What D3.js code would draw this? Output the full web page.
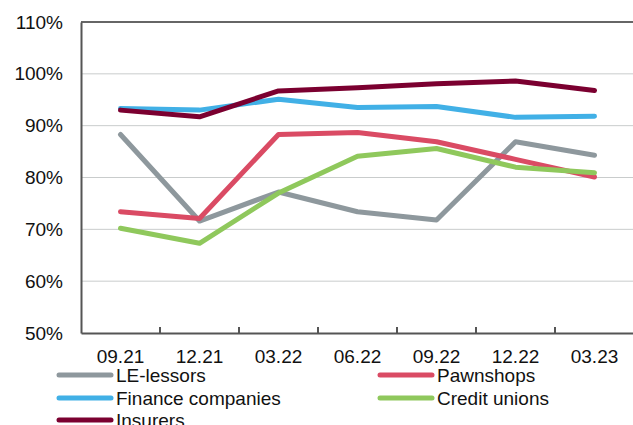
<!DOCTYPE html>
<html><head><meta charset="utf-8">
<script src="https://cdn.jsdelivr.net/npm/d3@7"></script>
<style>body{margin:0;background:#fff}svg{display:block}text{font-family:"Liberation Sans",Arial,sans-serif}</style>
</head><body>
<svg id="c" width="633" height="425"></svg>
<script>
const categories = ["09.21","12.21","03.22","06.22","09.22","12.22","03.23"];
const yTicks = [50,60,70,80,90,100,110];
const seriesNames = ["LE-lessors","Finance companies","Pawnshops","Credit unions","Insurers"];
const leLessors = [88.3,71.6,77.2,73.4,71.8,86.9,84.3];
const financeCompanies = [93.3,93.0,95.1,93.5,93.7,91.6,91.8];
const pawnshops = [73.4,72.1,88.3,88.7,86.9,83.5,80.1];
const creditUnions = [70.2,67.3,77.0,84.1,85.6,82.0,80.9];
const insurers = [93.0,91.7,96.7,97.3,98.1,98.6,96.8];
const colors = ["#8e989d","#41b0e6","#da4b64","#8fc85c","#7b0030"];
const seriesValues = [leLessors,financeCompanies,pawnshops,creditUnions,insurers];

const svg = d3.select("#c");
const L=81, R=634, T=22, B=333;
const FS = 19;
const x = d3.scaleBand().domain(categories).range([L,R]);
const y = d3.scaleLinear().domain([50,110]).range([B,T]);

// gridlines
svg.append("g").selectAll("line").data(yTicks.filter(d=>d>50&&d<110)).join("line")
  .attr("x1",L).attr("x2",R).attr("y1",d=>y(d)).attr("y2",d=>y(d))
  .attr("stroke","#c9cccc").attr("stroke-width",1);

// top border
svg.append("line").attr("x1",L).attr("x2",R).attr("y1",T).attr("y2",T).attr("stroke","#666").attr("stroke-width",2);

// y axis
const ya = svg.append("g").attr("transform",`translate(${L},0)`)
  .call(d3.axisLeft(y).tickValues(yTicks).tickFormat(d=>d+"%").tickSize(0).tickPadding(18));
ya.select(".domain").attr("stroke","#555").attr("stroke-width",2);
ya.selectAll("text").attr("font-size",FS).attr("fill","#111").attr("font-family","Liberation Sans, Arial, sans-serif");

// x axis
const xa = svg.append("g").attr("transform",`translate(0,${B})`)
  .call(d3.axisBottom(x).tickSize(0).tickPadding(17));
xa.select(".domain").attr("stroke","#555").attr("stroke-width",2);
xa.selectAll("text").attr("font-size",FS).attr("fill","#111").attr("font-family","Liberation Sans, Arial, sans-serif");
// inward tick marks at band boundaries
svg.append("g").selectAll("line").data(categories.slice(1)).join("line")
  .attr("x1",d=>x(d)).attr("x2",d=>x(d)).attr("y1",B).attr("y2",B-6)
  .attr("stroke","#555").attr("stroke-width",2);

// lines
const line = d3.line().x((d,i)=>x(categories[i])+x.bandwidth()/2).y(d=>y(d));
seriesValues.forEach((vals,i)=>{
  svg.append("path").datum(vals).attr("d",line)
    .attr("fill","none").attr("stroke",colors[i]).attr("stroke-width",5)
    .attr("stroke-linejoin","round").attr("stroke-linecap","round");
});

// legend (column-major: left column LE-lessors, Finance companies, Insurers)
const legPos = [[57,375],[57,398],[378,375],[378,398],[57,420]];
const lg = svg.append("g");
seriesNames.forEach((n,i)=>{
  const [lx,ly]=legPos[i];
  lg.append("line").attr("x1",lx+2).attr("x2",lx+54).attr("y1",ly).attr("y2",ly)
    .attr("stroke",colors[i]).attr("stroke-width",5).attr("stroke-linecap","round");
  lg.append("text").attr("x",lx+59).attr("y",ly+6.5).attr("font-size",FS).attr("fill","#111").text(n);
});
</script>
</body></html>
